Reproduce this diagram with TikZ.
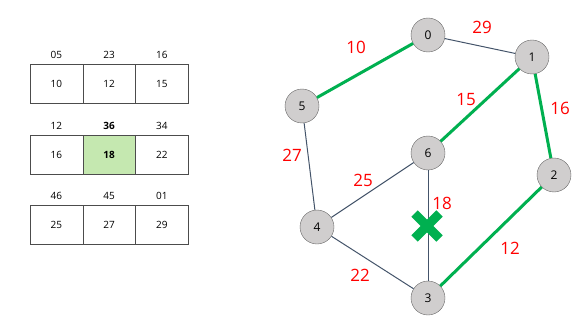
\documentclass[tikz,border=0pt]{standalone}
\usepackage{fontspec}
\setmainfont{Open Sans}
\usepackage{xcolor}

\definecolor{treegreen}{HTML}{00B050}
\definecolor{edgeslate}{HTML}{44546A}
\definecolor{vertexfill}{HTML}{D0CECE}
\definecolor{cellfill}{HTML}{C5E8B0}

\begin{document}
\begin{tikzpicture}[x=1pt,y=-1pt,
    vertex/.style={circle,draw=gray!80!black,fill=vertexfill,minimum size=34pt,inner sep=0pt,font=\fontsize{12}{14}\selectfont},
    cell/.style={draw=black!70,minimum width=52.7pt,minimum height=39pt,inner sep=0pt,font=\fontsize{10}{12}\selectfont},
    tag/.style={font=\fontsize{10}{12}\selectfont,inner sep=0pt},
    weight/.style={text=red,font=\fontsize{17}{20}\selectfont,inner sep=0pt},
    thinedge/.style={draw=edgeslate,line width=1pt},
    treeedge/.style={draw=treegreen,line width=3pt}]
            \useasboundingbox (0,0) rectangle (580,326);
            \def\w{52.7}

            % the three rows of cells
            \foreach \r/\y/\cells in {1/83.5/{05/10,23/12,16/15},2/154.5/{12/16,36/18,34/22},3/224.5/{46/25,45/27,01/29}}{
                \foreach \t/\v [count=\c] in \cells{
                    \ifnum\r=2 \ifnum\c=2
                        \node[cell,fill=cellfill,font=\fontsize{10}{12}\selectfont\bfseries] (c\r\c) at (30+\c*\w-0.5*\w,\y) {\v};
                        \node[tag,font=\fontsize{10}{12}\selectfont\bfseries] (t\r\c) at ([yshift=9pt]c\r\c.north) {\t};
                    \else
                        \node[cell] (c\r\c) at (30+\c*\w-0.5*\w,\y) {\v};
                        \node[tag] (t\r\c) at ([yshift=9pt]c\r\c.north) {\t};
                    \fi \else
                        \node[cell] (c\r\c) at (30+\c*\w-0.5*\w,\y) {\v};
                        \node[tag] (t\r\c) at ([yshift=9pt]c\r\c.north) {\t};
                    \fi
                }
            }

            % graph
            \foreach \n/\x/\y in {0/428/35,1/532/57,2/554/175,3/428/298,4/317/227,5/302/106,6/428/153}{
                \node[vertex] (v\n) at (\x,\y) {\n};
            }
            \foreach \a/\b in {0/1,5/4,6/4,6/3,4/3}
                \draw[thinedge] (v\a) -- (v\b);
            \foreach \a/\b in {0/5,1/6,1/2,2/3}
                \draw[treeedge] (v\a) -- (v\b);

            \node[weight] (w05) at (356,47) {10};
            \node[weight] (w01) at (482,27) {29};
            \node[weight] (w16) at (466,100) {15};
            \node[weight] (w12) at (560,108) {16};
            \node[weight] (w54) at (292,155) {27};
            \node[weight] (w64) at (363,180) {25};
            \node[weight] (w63) at (442,203) {18};
            \node[weight] (w23) at (510,248) {12};
            \node[weight] (w43) at (360,275) {22};

            \coordinate (cut) at (427,226);
            \draw[treegreen,line width=9pt] ([shift={(-12.5,-12.5)}]cut) -- ([shift={(12.5,12.5)}]cut);
            \draw[treegreen,line width=9pt] ([shift={(-12.5,12.5)}]cut) -- ([shift={(12.5,-12.5)}]cut);

        \end{tikzpicture}
\end{document}
